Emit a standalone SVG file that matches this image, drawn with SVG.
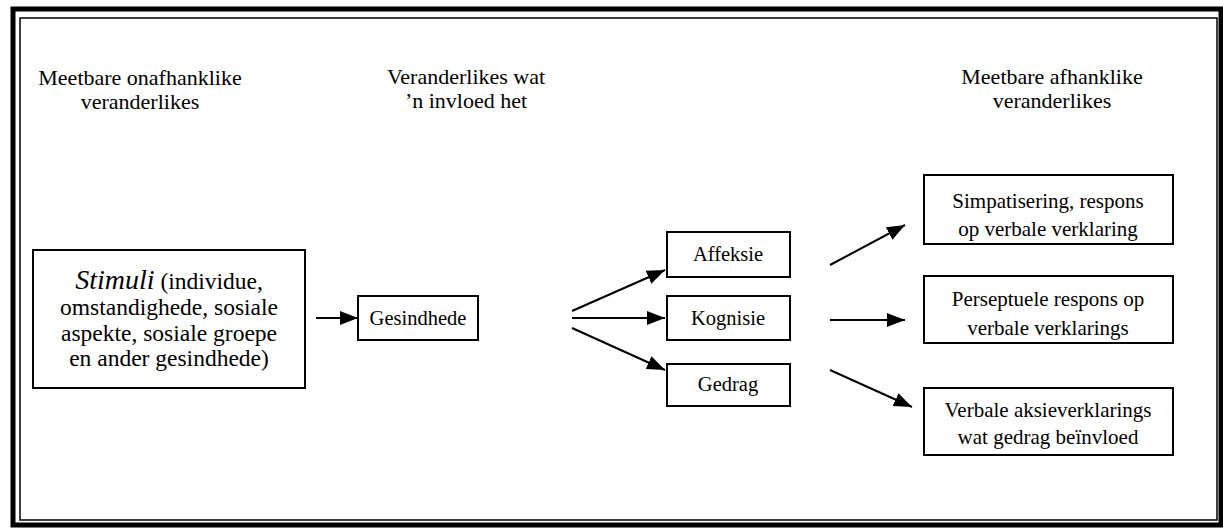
<svg xmlns="http://www.w3.org/2000/svg" width="1223" height="529" viewBox="0 0 1223 529">
<defs>
<style>
text{font-family:"Liberation Serif","Times New Roman","DejaVu Serif",serif;font-size:22px;fill:#000;text-anchor:middle}
.box{fill:#fff;stroke:#000;stroke-width:2}
.conn line{stroke:#000;stroke-width:2}
.mid{font-size:20.5px}
.rt{font-size:21px}
.st{font-size:23.5px}
</style>
<marker id="ah" markerWidth="18" markerHeight="14" refX="18" refY="7" orient="auto" markerUnits="userSpaceOnUse">
<path d="M0,0 L18,7 L0,14 Z" fill="#000"/>
</marker>
</defs>
<rect width="1223" height="529" fill="#fff"/>
<g id="frame">
<rect x="13" y="9" width="1208" height="516" fill="none" stroke="#000" stroke-width="5"/>
<rect x="20" y="18" width="1197" height="502" fill="none" stroke="#000" stroke-width="1.5"/>
</g>
<g id="headers">
<text x="140" y="85">Meetbare onafhanklike</text>
<text x="140" y="109">veranderlikes</text>
<text x="466" y="84">Veranderlikes wat</text>
<text x="466" y="108">’n invloed het</text>
<text x="1052" y="84">Meetbare afhanklike</text>
<text x="1052" y="108">veranderlikes</text>
</g>
<g id="stimuli">
<rect class="box" x="33" y="250" width="272" height="138"/>
<text class="st" x="169" y="289"><tspan font-style="italic" font-size="28">Stimuli</tspan> (individue,</text>
<text class="st" x="169" y="315">omstandighede, sosiale</text>
<text class="st" x="169" y="341">aspekte, sosiale groepe</text>
<text class="st" x="169" y="366">en ander gesindhede)</text>
</g>
<g id="gesindhede">
<rect class="box" x="358" y="296" width="120" height="44"/>
<text class="mid" x="418" y="325">Gesindhede</text>
</g>
<g id="affeksie">
<rect class="box" x="667" y="232" width="123" height="45"/>
<text class="mid" x="728" y="261">Affeksie</text>
</g>
<g id="kognisie">
<rect class="box" x="667" y="296" width="123" height="44"/>
<text class="mid" x="728" y="325">Kognisie</text>
</g>
<g id="gedrag">
<rect class="box" x="667" y="364" width="123" height="42"/>
<text class="mid" x="728" y="391">Gedrag</text>
</g>
<g id="simpatisering">
<rect class="box" x="924" y="175" width="249" height="69"/>
<text class="rt" x="1048" y="208">Simpatisering, respons</text>
<text class="rt" x="1048" y="236">op verbale verklaring</text>
</g>
<g id="perseptuele">
<rect class="box" x="924" y="276" width="249" height="67"/>
<text class="rt" x="1048" y="306">Perseptuele respons op</text>
<text class="rt" x="1048" y="335">verbale verklarings</text>
</g>
<g id="verbale">
<rect class="box" x="924" y="388" width="249" height="67"/>
<text class="rt" x="1048" y="417">Verbale aksieverklarings</text>
<text class="rt" x="1048" y="444">wat gedrag beïnvloed</text>
</g>
<g id="connectors" class="conn">
<line x1="316" y1="318" x2="358" y2="318" marker-end="url(#ah)"/>
<line x1="572" y1="311" x2="665" y2="270" marker-end="url(#ah)"/>
<line x1="572" y1="318" x2="665" y2="318" marker-end="url(#ah)"/>
<line x1="572" y1="328" x2="665" y2="370" marker-end="url(#ah)"/>
<line x1="830" y1="265" x2="905" y2="225" marker-end="url(#ah)"/>
<line x1="830" y1="320" x2="905" y2="320" marker-end="url(#ah)"/>
<line x1="830" y1="370" x2="912" y2="407" marker-end="url(#ah)"/>
</g>
</svg>
